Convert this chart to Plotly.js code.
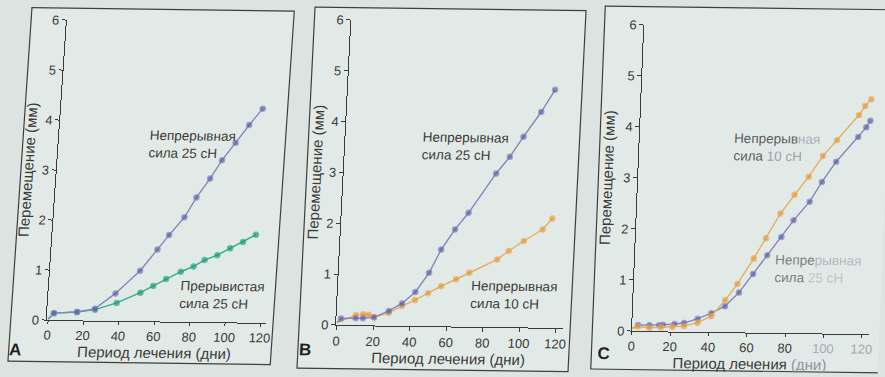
<!DOCTYPE html>
<html><head><meta charset="utf-8">
<script src="https://cdn.plot.ly/plotly-3.0.1.min.js"></script>
<style>
html,body{margin:0;padding:0;background:#dce3e0;width:885px;height:377px;overflow:hidden}
.p{position:absolute;left:0;top:0;width:885px;height:377px}
</style></head><body>
<div id="pa" class="p"></div><div id="pb" class="p"></div><div id="pc" class="p"></div>
<script>
// ---------- data (days, displacement in mm) ----------
const xTicks = [0, 20, 40, 60, 80, 100, 120];
const yTicks = [0, 1, 2, 3, 4, 5, 6];
const xTitle = 'Период лечения (дни)';
const yTitle = 'Перемещение (мм)';

// Panel A
const daysA_cont25 = [0, 3, 16, 26, 37, 50, 59, 65, 73, 79, 86, 92, 99, 106, 113];
const valsA_cont25 = [0.02, 0.14, 0.17, 0.24, 0.55, 1.01, 1.44, 1.73, 2.09, 2.49, 2.87, 3.24, 3.59, 3.95, 4.28];
const daysA_int25  = [0, 3, 16, 26, 38, 51, 58, 65, 73, 80, 86, 93, 100, 107, 114];
const valsA_int25  = [0.02, 0.14, 0.17, 0.22, 0.36, 0.57, 0.71, 0.85, 1.00, 1.11, 1.24, 1.34, 1.48, 1.61, 1.76];

// Panel B
const daysB_cont25 = [0, 2, 10, 14, 20, 28, 35, 42, 49, 55, 62, 69, 83, 90, 97, 106, 113];
const valsB_cont25 = [0.05, 0.13, 0.14, 0.14, 0.16, 0.29, 0.44, 0.67, 1.05, 1.51, 1.91, 2.24, 3.02, 3.35, 3.75, 4.24, 4.68];
const daysB_cont10 = [0, 10, 14, 17, 20, 28, 35, 42, 49, 56, 64, 71, 86, 92, 100, 110, 115];
const valsB_cont10 = [0.05, 0.20, 0.22, 0.21, 0.16, 0.25, 0.39, 0.51, 0.65, 0.79, 0.93, 1.06, 1.33, 1.50, 1.70, 1.93, 2.15];

// Panel C
const daysC_cont25 = [0, 3, 9, 14, 16, 22, 27, 34, 41, 48, 55, 62, 69, 76, 82, 90, 96, 103, 114, 118, 120];
const valsC_cont25 = [0.05, 0.12, 0.12, 0.12, 0.13, 0.15, 0.17, 0.26, 0.37, 0.51, 0.78, 1.15, 1.52, 1.88, 2.21, 2.58, 2.97, 3.37, 3.86, 4.05, 4.18];
const daysC_cont10 = [0, 3, 9, 15, 21, 27, 34, 41, 48, 54, 62, 68, 75, 82, 89, 96, 103, 114, 117, 120];
const valsC_cont10 = [0.05, 0.09, 0.07, 0.08, 0.09, 0.11, 0.18, 0.31, 0.63, 0.95, 1.45, 1.85, 2.34, 2.71, 3.07, 3.48, 3.79, 4.29, 4.47, 4.60];

// ---------- styling ----------
const W = 885, H = 377;
const FONT = '"Liberation Sans", Arial, Helvetica, sans-serif';
const TXT = '#3a3a3a', AXIS = '#3a3a3a', BORDER = '#3c3f3f', BOXFILL = '#e2eae7';
const PURPLE = {line: '#8485bb', mark: '#5b5da9'};
const GREEN  = {line: '#34a98c', mark: '#169b74'};
const ORANGE = {line: '#e8ac5c', mark: '#e39a3a'};

const px = u => u / W;
const py = v => 1 - v / H;

function series(x, y, col) {
  return {
    type: 'scatter', mode: 'lines+markers', x: x, y: y, cliponaxis: false,
    line: {color: col.line, width: 1.4},
    marker: {color: col.mark, size: x.map((d, i) => i === 0 ? 0 : 5.5)},
    hoverinfo: 'skip'
  };
}

function note(u, v, text, extra) {
  return Object.assign({xref: 'paper', yref: 'paper', x: px(u), y: py(v), text: text,
    showarrow: false, xanchor: 'left', yanchor: 'middle', align: 'left',
    font: {size: 13.5, color: TXT, family: FONT}}, extra || {});
}

function panel(id, cfg, traces) {
  const el = document.getElementById(id);
  el.style.transformOrigin = cfg.ox + 'px ' + cfg.oy + 'px';
  el.style.transform = 'matrix(1,' + cfg.b + ',' + cfg.c + ',1,0,0)';
  const layout = {
    width: W, height: H, margin: {l: 0, r: 0, t: 0, b: 0},
    paper_bgcolor: 'rgba(0,0,0,0)', plot_bgcolor: 'rgba(0,0,0,0)',
    showlegend: false, font: {family: FONT, size: 13, color: TXT},
    xaxis: {
      domain: [px(cfg.xu[0]), px(cfg.xu[1])], range: cfg.xr,
      tickmode: 'array', tickvals: xTicks, ticktext: cfg.xtt || xTicks.map(String),
      ticks: 'outside', ticklen: cfg.xtl || 4, tickcolor: AXIS, tickwidth: 1,
      showline: true, linecolor: AXIS, linewidth: 1, showgrid: false, zeroline: false,
      ticklabelstandoff: cfg.xls, automargin: false, fixedrange: true,
      tickfont: {size: 13, color: TXT},
      title: {text: cfg.xtitle || xTitle, font: {size: 15, color: TXT}, standoff: cfg.xts}
    },
    yaxis: {
      domain: [py(cfg.yv[1]), py(cfg.yv[0])], range: [0, 6],
      tickmode: 'array', tickvals: yTicks,
      ticks: 'outside', ticklen: 4, tickcolor: AXIS, tickwidth: 1,
      showline: true, linecolor: AXIS, linewidth: 1, showgrid: false, zeroline: false,
      ticklabelstandoff: 0, automargin: false, fixedrange: true,
      tickfont: {size: 13, color: TXT},
      title: {text: yTitle, font: {size: 15, color: TXT}, standoff: cfg.yts}
    },
    shapes: [{type: 'rect', xref: 'paper', yref: 'paper', layer: 'below',
      x0: px(cfg.box[0]), x1: px(cfg.box[1]), y0: py(cfg.box[3]), y1: py(cfg.box[2]),
      fillcolor: BOXFILL, line: {color: BORDER, width: 1.2}}],
    annotations: [
      {xref: 'paper', yref: 'paper', x: px(cfg.letter[0]), y: py(cfg.letter[1]), text: '<b>' + cfg.letter[2] + '</b>',
       showarrow: false, xanchor: 'center', yanchor: 'middle', font: {size: 17, color: '#222', family: FONT}}
    ].concat(cfg.notes)
  };
  Plotly.newPlot(el, traces, layout, {staticPlot: true, displayModeBar: false});
}

panel('pa', {
  ox: 160, oy: 190, b: 0.013, c: -0.068,
  xu: [55.5, 274.8], xr: [-0.9, 123], yv: [21.4, 321.4],
  box: [19.7, 282, 9.5, 363], letter: [26, 351.5, 'A'],
  xls: 0, xts: 0, yts: 4, xtl: 3,
  notes: [
    note(143.9, 144.6, 'Непрерывная<br>сила 25 сН'),
    note(185.1, 294.3, 'Прерывистая<br>сила 25 сН')
  ]
}, [series(daysA_int25, valsA_int25, GREEN), series(daysA_cont25, valsA_cont25, PURPLE)]);

panel('pb', {
  ox: 450, oy: 190, b: 0.013, c: -0.05,
  xu: [342.9, 570.1], xr: [-0.5, 124], yv: [21.4, 326.4],
  box: [306, 577, 9, 370], letter: [313, 351.8, 'B'],
  xls: 0, xts: 0, yts: 3,
  notes: [
    note(417.8, 146.5, 'Непрерывная<br>сила 25 сН'),
    note(473.5, 294.2, 'Непрерывная<br>сила 10 сН')
  ]
}, [series(daysB_cont10, valsB_cont10, ORANGE), series(daysB_cont25, valsB_cont25, PURPLE)]);

panel('pc', {
  ox: 750, oy: 190, b: 0.013, c: -0.04,
  xu: [637.7, 875.2], xr: [0, 124], yv: [26.4, 332.5],
  box: [598, 900, 8, 371], letter: [610, 355, 'C'],
  xls: 0, xts: 0, yts: 6, xtl: 3,
  xtt: ['0', '20', '40', '60', '80', '<span style="color:#a7acb6">100</span>', '<span style="color:#a3a8b2">120</span>'],
  xtitle: 'Период лечения <span style="color:#8e939c">(дни)</span>',
  notes: [
    note(730, 147.9, 'Непрерыв<span style="color:#a9aeb6">ная</span><br>сила <span style="color:#9ea3ac">10 сН</span>', {font: {size: 13.5, color: '#5a5d60', family: FONT}}),
    note(776.4, 268.2, 'Непре<span style="color:#b3b7c0">рывная</span><br>сила <span style="color:#bfc3cb">25 сН</span>', {font: {size: 13.5, color: '#7b7f85', family: FONT}})
  ]
}, [series(daysC_cont25, valsC_cont25, PURPLE), series(daysC_cont10, valsC_cont10, ORANGE)]);
</script>
</body></html>
